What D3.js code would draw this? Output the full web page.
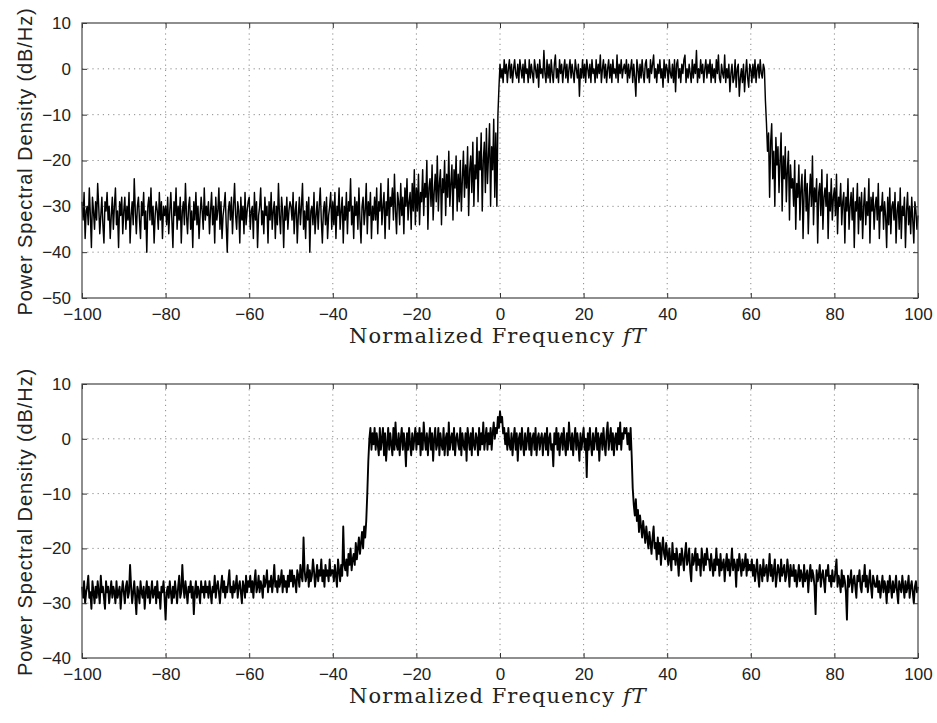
<!DOCTYPE html>
<html>
<head>
<meta charset="utf-8">
<script src="https://cdn.jsdelivr.net/npm/d3@7/dist/d3.min.js"></script>
<style>
  html, body { margin: 0; padding: 0; background: #fff; }
  svg { display: block; }
</style>
</head>
<body>
<svg id="chart" width="937" height="723"></svg>
<script>
// Spectrum samples in dB/Hz. Each row spans 10 units of normalized frequency,
// starting at -100, -90, ..., 90; the final single-sample row sits at fT = 100.
const rowStarts = d3.range(-100, 101, 10);

// Upper spectrum: one-sided band occupying 0 .. ~63
const psdTop = [
  [-29,-33,-27,-37,-31,-30,-34,-26,-32,-39,-28,-31,-35,-29,-33,-25,-30,-36,-32,-28,-34,-38,-29,-31,-27,-33,-30,-37,-32,-28,-35,-30,-26,-34,-31,-39,-29,-32,-28,-36],
  [-31,-28,-35,-30,-33,-27,-38,-32,-29,-34,-24,-31,-36,-30,-28,-33,-37,-29,-32,-27,-35,-31,-40,-30,-28,-33,-26,-34,-30,-38,-32,-29,-31,-35,-27,-33,-29,-37,-30,-32],
  [-30,-34,-28,-36,-31,-27,-33,-39,-29,-32,-26,-35,-30,-33,-28,-38,-31,-29,-34,-25,-32,-36,-30,-28,-35,-31,-39,-29,-33,-27,-34,-30,-37,-32,-28,-31,-35,-26,-33,-30],
  [-32,-29,-36,-31,-27,-34,-30,-38,-28,-33,-31,-26,-35,-29,-37,-32,-30,-27,-34,-40,-31,-29,-33,-28,-36,-30,-25,-32,-35,-29,-31,-38,-28,-33,-30,-36,-27,-34,-31,-29],
  [-28,-35,-31,-30,-37,-27,-33,-29,-39,-32,-30,-26,-34,-31,-36,-28,-32,-30,-38,-29,-33,-27,-35,-31,-29,-37,-30,-34,-25,-32,-36,-28,-31,-39,-30,-33,-28,-35,-31,-29],
  [-30,-33,-27,-36,-31,-29,-38,-32,-28,-34,-30,-25,-35,-31,-37,-29,-33,-28,-40,-31,-30,-34,-27,-36,-32,-29,-35,-30,-26,-33,-38,-31,-29,-34,-28,-37,-32,-30,-27,-35],
  [-29,-34,-27,-37,-30,-32,-26,-35,-31,-28,-38,-30,-33,-27,-36,-29,-31,-24,-34,-30,-37,-28,-32,-29,-35,-26,-33,-38,-30,-28,-34,-31,-25,-36,-29,-32,-27,-37,-30,-33],
  [-28,-33,-26,-36,-29,-31,-25,-34,-30,-27,-37,-29,-32,-24,-35,-28,-30,-26,-33,-23,-31,-36,-27,-29,-34,-25,-32,-28,-36,-26,-30,-24,-33,-29,-27,-35,-25,-31,-22,-34],
  [-26,-31,-23,-34,-27,-29,-22,-32,-25,-28,-20,-35,-26,-24,-30,-21,-33,-27,-23,-29,-19,-31,-25,-22,-34,-24,-27,-20,-32,-23,-28,-18,-30,-25,-21,-33,-22,-26,-19,-31],
  [-23,-29,-20,-31,-24,-18,-28,-21,-26,-17,-32,-22,-19,-27,-16,-30,-21,-24,-15,-29,-18,-22,-14,-31,-20,-16,-27,-13,-25,-19,-12,-30,-17,-22,-11,-28,-14,-30,-10,-4],
  [1,-2,0,-3,2,-1,1,-3,0,2,-2,1,-3,0,2,-1,-2,1,-3,2,0,-2,1,-3,2,-1,0,-3,2,-2,1,-1,-3,2,0,-2,1,-4,2,-1],
  [0,-2,4,-1,-3,2,-2,1,-3,2,-1,-3,1,3,-2,0,-3,2,-1,1,-3,0,2,-2,1,-3,0,2,-2,1,-1,-3,2,0,-2,1,-6,0,-2,2],
  [-2,1,-3,2,0,-2,1,-3,2,-1,0,-3,2,-2,1,-1,3,-3,0,2,-2,1,-3,0,2,-2,1,-3,2,-1,0,-2,3,-3,1,-1,2,-2,0,1],
  [-1,2,-3,1,-2,0,2,-3,1,-2,-6,2,0,-3,1,-2,2,-1,-3,1,2,-2,0,-3,2,-1,1,3,-2,0,-3,1,-1,2,-2,0,-4,2,-2,1],
  [0,-3,2,-1,-2,1,-3,2,-5,1,2,-2,0,-3,1,-1,2,3,-3,0,-2,1,-1,-3,2,-2,1,-1,4,-3,0,-2,2,-1,1,-3,0,2,-2,1],
  [-1,2,-3,1,-2,0,-3,2,-1,3,-2,-3,1,-1,-2,3,-3,0,-2,1,-5,-1,1,-3,-2,2,-4,0,1,-6,-2,0,-3,1,-5,-1,2,-2,-4,1],
  [0,-3,1,-2,2,-3,0,1,-2,2,-1,-2,1,0,-7,-12,-18,-14,-28,-16,-12,-24,-18,-30,-15,-21,-17,-27,-20,-14,-31,-19,-24,-17,-29,-22,-18,-33,-21,-26],
  [-24,-30,-20,-35,-25,-28,-21,-33,-26,-23,-37,-27,-22,-31,-25,-36,-28,-23,-30,-19,-34,-26,-29,-24,-38,-27,-25,-32,-22,-35,-28,-26,-30,-23,-37,-27,-31,-24,-33,-28],
  [-26,-32,-23,-36,-28,-30,-25,-34,-29,-27,-38,-28,-31,-24,-35,-30,-27,-33,-26,-39,-29,-31,-25,-36,-28,-33,-27,-37,-30,-26,-34,-29,-32,-24,-38,-28,-31,-27,-35,-30],
  [-28,-33,-25,-37,-30,-31,-27,-35,-29,-32,-39,-28,-34,-26,-36,-30,-29,-33,-27,-38,-31,-29,-35,-26,-37,-30,-32,-28,-39,-31,-27,-34,-30,-36,-28,-33,-38,-29,-31,-35],
  [-32]
];

// Lower spectrum: band centred on zero, about -31.5 .. 31.5
const psdBottom = [
  [-27,-29,-26,-30,-28,-27,-25,-29,-28,-31,-26,-28,-30,-27,-29,-26,-28,-30,-25,-28,-27,-29,-31,-26,-28,-27,-30,-28,-26,-29,-27,-28,-30,-26,-29,-28,-27,-31,-28,-26],
  [-28,-30,-27,-26,-29,-28,-23,-27,-30,-28,-26,-29,-32,-27,-28,-30,-26,-28,-29,-27,-31,-28,-26,-29,-27,-30,-28,-26,-29,-28,-27,-30,-26,-29,-28,-31,-27,-28,-26,-29],
  [-33,-28,-27,-29,-26,-28,-30,-27,-29,-26,-28,-30,-27,-25,-29,-28,-23,-27,-29,-26,-28,-30,-27,-28,-26,-29,-27,-32,-28,-26,-29,-27,-28,-30,-26,-28,-27,-29,-26,-28],
  [-27,-29,-26,-28,-30,-27,-28,-25,-29,-27,-26,-28,-30,-27,-25,-28,-26,-29,-27,-28,-26,-24,-28,-27,-29,-26,-28,-27,-25,-29,-27,-26,-28,-30,-26,-27,-29,-25,-28,-26],
  [-27,-25,-28,-26,-29,-26,-24,-28,-27,-25,-28,-26,-27,-29,-25,-27,-26,-24,-28,-26,-27,-25,-28,-26,-23,-27,-26,-28,-25,-27,-26,-24,-28,-25,-27,-26,-28,-25,-27,-24],
  [-26,-24,-27,-25,-26,-28,-24,-25,-27,-23,-25,-26,-18,-24,-26,-25,-23,-27,-24,-26,-25,-22,-24,-27,-25,-23,-26,-24,-25,-22,-26,-24,-27,-23,-25,-24,-26,-22,-25,-24],
  [-24,-26,-23,-25,-27,-22,-24,-26,-23,-25,-16,-23,-24,-22,-25,-21,-23,-20,-24,-22,-21,-23,-19,-22,-20,-18,-21,-19,-17,-20,-16,-18,-15,-10,-4,0,2,-2,1,-1],
  [2,-2,1,-1,-3,2,-2,0,2,-3,1,-4,-1,2,-2,1,-1,-3,2,-2,3,-1,-2,1,-3,0,2,-2,1,-1,-5,1,-2,2,-1,-3,1,-2,0,2],
  [-2,1,-1,2,-3,1,-2,3,0,-2,1,-3,0,2,-2,1,-4,0,2,-2,-1,2,-3,1,-1,-2,2,-3,0,1,-3,3,-2,0,1,-2,2,-3,0,1],
  [-1,-2,2,-3,1,-1,-2,1,-4,2,0,-2,1,-3,2,-1,-2,1,0,-3,2,-2,1,-1,3,-2,0,2,-2,1,-1,2,-2,1,3,0,2,1,4,2],
  [5,3,4,1,2,-1,1,-2,2,-1,-2,1,-3,0,2,-2,1,-4,0,1,-2,2,-1,-3,1,-2,0,2,-2,1,-3,0,1,-2,2,-3,0,1,-2,0],
  [1,-3,0,1,-2,2,-3,0,1,-2,-1,-5,1,-1,2,-2,1,-3,0,1,-2,2,-1,-3,1,-2,3,0,-2,1,-3,0,2,-2,1,-1,-4,1,-2,0],
  [2,-2,0,-7,1,-2,2,-1,-3,1,-2,0,2,-2,1,-4,0,1,-2,2,-1,-3,1,3,-2,0,2,-2,1,-3,0,1,-2,2,-1,3,-2,1,0,2],
  [1,2,-1,1,-2,2,-3,-9,-12,-14,-11,-15,-13,-17,-14,-16,-18,-15,-17,-19,-16,-18,-20,-17,-19,-21,-18,-16,-20,-19,-22,-18,-21,-19,-23,-20,-18,-21,-22,-19],
  [-21,-23,-20,-22,-24,-19,-22,-21,-23,-20,-22,-25,-21,-23,-20,-22,-24,-21,-19,-23,-22,-20,-24,-26,-21,-23,-22,-20,-24,-21,-23,-22,-25,-20,-22,-24,-21,-23,-20,-22],
  [-22,-24,-21,-23,-25,-22,-24,-20,-23,-22,-25,-21,-24,-23,-22,-26,-23,-21,-24,-22,-25,-23,-20,-24,-22,-23,-27,-22,-24,-21,-23,-25,-22,-24,-23,-21,-25,-22,-24,-23],
  [-24,-22,-25,-23,-26,-24,-22,-25,-27,-23,-24,-26,-22,-25,-24,-23,-26,-24,-21,-25,-23,-26,-24,-22,-27,-25,-23,-24,-26,-22,-25,-24,-23,-26,-25,-22,-24,-27,-23,-25],
  [-25,-23,-26,-24,-27,-25,-23,-26,-24,-25,-27,-23,-26,-25,-24,-28,-25,-23,-26,-24,-25,-27,-32,-24,-26,-25,-23,-27,-25,-24,-26,-28,-24,-25,-23,-26,-25,-27,-24,-26],
  [-26,-24,-22,-27,-25,-26,-28,-24,-27,-25,-26,-28,-33,-25,-27,-26,-24,-28,-26,-25,-27,-29,-25,-26,-24,-27,-28,-25,-26,-23,-27,-25,-28,-26,-24,-27,-29,-25,-26,-27],
  [-27,-25,-28,-26,-29,-27,-25,-28,-26,-27,-30,-26,-28,-25,-27,-29,-26,-28,-27,-25,-28,-30,-26,-27,-28,-25,-27,-29,-26,-28,-27,-25,-29,-27,-26,-28,-30,-27,-26,-28],
  [-27]
];

const xTicks = [-100, -80, -60, -40, -20, 0, 20, 40, 60, 80, 100];
const yTicksTop = [-50, -40, -30, -20, -10, 0, 10];
const yTicksBottom = [-40, -30, -20, -10, 0, 10];

const svg = d3.select("#chart");
const left = 82, right = 918;
const fmt = d3.format("");
const sans = "Liberation Sans, Arial, Helvetica, sans-serif";

// flatten rows into [frequency, dB] samples
function samples(rows) {
  const out = [];
  rows.forEach((row, k) => {
    row.forEach((v, j) => out.push([rowStarts[k] + j * 10 / row.length, v]));
  });
  return out;
}

function panel(rows, yDomain, yTicks, top, bottom, traceWidth) {
  const x = d3.scaleLinear().domain([-100, 100]).range([left, right]);
  const y = d3.scaleLinear().domain(yDomain).range([bottom, top]);
  const g = svg.append("g");

  // dotted grid
  const grid = g.append("g").attr("stroke", "#8a8a8a").attr("stroke-width", 1)
    .attr("stroke-dasharray", "1.2,4");
  xTicks.slice(1, -1).forEach(t => grid.append("line")
    .attr("x1", x(t)).attr("x2", x(t)).attr("y1", top).attr("y2", bottom));
  yTicks.slice(1, -1).forEach(t => grid.append("line")
    .attr("x1", left).attr("x2", right).attr("y1", y(t)).attr("y2", y(t)));

  // spectrum trace
  g.append("path")
    .datum(samples(rows))
    .attr("fill", "none")
    .attr("stroke", "#000")
    .attr("stroke-width", traceWidth)
    .attr("stroke-linejoin", "round")
    .attr("d", d3.line().x(d => x(d[0])).y(d => y(d[1])));

  // axes with inward ticks on all four sides
  const axStyle = sel => {
    sel.select(".domain").remove();
    sel.selectAll("line").attr("stroke", "#333");
  };
  g.append("g").attr("transform", `translate(0,${bottom})`)
    .call(d3.axisBottom(x).tickValues(xTicks).tickSize(-5).tickPadding(10).tickFormat(fmt))
    .call(axStyle);
  g.append("g").attr("transform", `translate(0,${top})`)
    .call(d3.axisTop(x).tickValues(xTicks).tickSize(-5).tickFormat(""))
    .call(axStyle);
  g.append("g").attr("transform", `translate(${left},0)`)
    .call(d3.axisLeft(y).tickValues(yTicks).tickSize(-5).tickPadding(11).tickFormat(fmt))
    .call(axStyle);
  g.append("g").attr("transform", `translate(${right},0)`)
    .call(d3.axisRight(y).tickValues(yTicks).tickSize(-5).tickFormat(""))
    .call(axStyle);
  g.selectAll(".tick text")
    .attr("font-family", sans)
    .attr("font-size", 17).attr("fill", "#222");

  // frame
  g.append("rect").attr("x", left).attr("y", top)
    .attr("width", right - left).attr("height", bottom - top)
    .attr("fill", "none").attr("stroke", "#444").attr("stroke-width", 1.2);

  // labels
  g.append("text")
    .attr("transform", `translate(32,${(top + bottom) / 2 + 1}) rotate(-90)`)
    .attr("text-anchor", "middle")
    .attr("font-family", sans)
    .attr("font-size", 20).attr("letter-spacing", 0.9).attr("fill", "#222")
    .text("Power Spectral Density (dB/Hz)");
  const xl = g.append("text")
    .attr("x", 498).attr("y", bottom + 45)
    .attr("text-anchor", "middle")
    .attr("font-family", "DejaVu Serif, Liberation Serif, serif")
    .attr("font-size", 21).attr("letter-spacing", 1.1).attr("fill", "#222");
  xl.append("tspan").text("Normalized Frequency ");
  xl.append("tspan").attr("font-style", "italic").text("fT");
}

panel(psdTop, [-50, 10], yTicksTop, 23, 298, 1.45);
panel(psdBottom, [-40, 10], yTicksBottom, 384, 658, 1.9);
</script>
</body>
</html>
